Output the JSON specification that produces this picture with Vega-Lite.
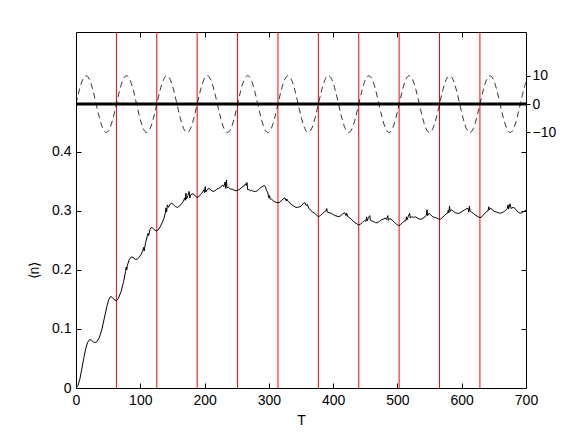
{
  "$schema": "https://vega.github.io/schema/vega-lite/v6.json",
  "autosize": {"type": "none"},
  "padding": {"left": 76, "top": 32, "right": 55, "bottom": 49},
  "width": 450,
  "height": 356,
  "background": "white",
  "config": {
    "font": "Liberation Sans",
    "view": {"stroke": "black", "strokeWidth": 1},
    "axis": {"grid": false, "domain": false, "labelFlush": false, "labelOverlap": false, "tickColor": "black", "labelColor": "black", "titleColor": "black", "labelFont": "Liberation Sans", "titleFont": "Liberation Sans", "labelFontSize": 14, "titleFontSize": 14, "titleFontWeight": "normal"}
  },
  "datasets": {
    "lines": [{"T": 62.83}, {"T": 125.66}, {"T": 188.5}, {"T": 251.33}, {"T": 314.16}, {"T": 376.99}, {"T": 439.82}, {"T": 502.65}, {"T": 565.49}, {"T": 628.32}],
    "zero": [{"s": 0}],
    "curve": [
      {"T":0,"n":0},{"T":3,"n":0.004},{"T":6,"n":0.015},{"T":9,"n":0.032},{"T":12,"n":0.05},{"T":15,"n":0.066},{"T":18,"n":0.077},{"T":21,"n":0.082},{"T":24,"n":0.081},{"T":27,"n":0.078},{"T":30,"n":0.077},{"T":33,"n":0.079},{"T":36,"n":0.085},{"T":40,"n":0.098},{"T":44,"n":0.118},{"T":48,"n":0.138},{"T":51,"n":0.15},{"T":54,"n":0.155},{"T":57,"n":0.153},{"T":60,"n":0.149},{"T":63,"n":0.148},{"T":66,"n":0.152},{"T":70,"n":0.163},{"T":74,"n":0.18},{"T":77,"n":0.197},{"T":78,"n":0.205},{"T":79,"n":0.2},{"T":80,"n":0.208},{"T":83,"n":0.218},{"T":86,"n":0.222},{"T":89,"n":0.221},{"T":92,"n":0.218},{"T":95,"n":0.218},{"T":98,"n":0.221},{"T":101,"n":0.226},{"T":104,"n":0.233},{"T":105,"n":0.238},{"T":106,"n":0.232},{"T":108,"n":0.245},{"T":111,"n":0.258},{"T":112,"n":0.262},{"T":113,"n":0.258},{"T":115,"n":0.268},{"T":117,"n":0.272},{"T":119,"n":0.271},{"T":122,"n":0.268},{"T":125,"n":0.266},{"T":128,"n":0.268},{"T":131,"n":0.273},{"T":134,"n":0.28},{"T":137,"n":0.288},{"T":139,"n":0.297},{"T":140,"n":0.305},{"T":141,"n":0.298},{"T":142,"n":0.31},{"T":144,"n":0.306},{"T":146,"n":0.311},{"T":149,"n":0.313},{"T":152,"n":0.31},{"T":155,"n":0.307},{"T":158,"n":0.306},{"T":161,"n":0.308},{"T":164,"n":0.312},{"T":167,"n":0.316},{"T":169,"n":0.322},{"T":170,"n":0.318},{"T":171,"n":0.33},{"T":172,"n":0.32},{"T":174,"n":0.326},{"T":176,"n":0.333},{"T":177,"n":0.322},{"T":179,"n":0.328},{"T":182,"n":0.329},{"T":185,"n":0.326},{"T":188,"n":0.323},{"T":191,"n":0.324},{"T":194,"n":0.328},{"T":197,"n":0.332},{"T":199,"n":0.336},{"T":200,"n":0.331},{"T":201,"n":0.341},{"T":202,"n":0.332},{"T":204,"n":0.336},{"T":207,"n":0.338},{"T":210,"n":0.335},{"T":213,"n":0.333},{"T":216,"n":0.334},{"T":219,"n":0.337},{"T":222,"n":0.338},{"T":225,"n":0.34},{"T":228,"n":0.344},{"T":230,"n":0.341},{"T":232,"n":0.349},{"T":233,"n":0.338},{"T":234,"n":0.352},{"T":235,"n":0.339},{"T":237,"n":0.34},{"T":240,"n":0.337},{"T":243,"n":0.337},{"T":246,"n":0.335},{"T":249,"n":0.334},{"T":252,"n":0.335},{"T":255,"n":0.337},{"T":258,"n":0.34},{"T":261,"n":0.342},{"T":264,"n":0.346},{"T":265,"n":0.343},{"T":266,"n":0.348},{"T":267,"n":0.336},{"T":269,"n":0.336},{"T":271,"n":0.334},{"T":273,"n":0.335},{"T":276,"n":0.333},{"T":279,"n":0.333},{"T":282,"n":0.334},{"T":285,"n":0.337},{"T":288,"n":0.34},{"T":291,"n":0.342},{"T":293,"n":0.343},{"T":295,"n":0.34},{"T":296,"n":0.335},{"T":298,"n":0.332},{"T":300,"n":0.322},{"T":301,"n":0.326},{"T":302,"n":0.32},{"T":304,"n":0.32},{"T":307,"n":0.317},{"T":310,"n":0.315},{"T":313,"n":0.314},{"T":316,"n":0.314},{"T":319,"n":0.317},{"T":322,"n":0.32},{"T":325,"n":0.322},{"T":327,"n":0.317},{"T":328,"n":0.32},{"T":330,"n":0.316},{"T":333,"n":0.313},{"T":336,"n":0.31},{"T":339,"n":0.308},{"T":342,"n":0.306},{"T":345,"n":0.306},{"T":348,"n":0.307},{"T":351,"n":0.309},{"T":354,"n":0.313},{"T":356,"n":0.314},{"T":358,"n":0.309},{"T":360,"n":0.311},{"T":362,"n":0.305},{"T":365,"n":0.301},{"T":368,"n":0.298},{"T":371,"n":0.296},{"T":374,"n":0.293},{"T":377,"n":0.29},{"T":380,"n":0.292},{"T":383,"n":0.295},{"T":386,"n":0.298},{"T":389,"n":0.3},{"T":390,"n":0.304},{"T":391,"n":0.298},{"T":394,"n":0.297},{"T":397,"n":0.296},{"T":400,"n":0.294},{"T":403,"n":0.292},{"T":406,"n":0.291},{"T":409,"n":0.29},{"T":412,"n":0.292},{"T":415,"n":0.295},{"T":418,"n":0.297},{"T":420,"n":0.292},{"T":421,"n":0.296},{"T":423,"n":0.29},{"T":425,"n":0.289},{"T":428,"n":0.286},{"T":431,"n":0.283},{"T":434,"n":0.28},{"T":437,"n":0.278},{"T":440,"n":0.276},{"T":443,"n":0.278},{"T":446,"n":0.281},{"T":449,"n":0.284},{"T":451,"n":0.282},{"T":452,"n":0.29},{"T":453,"n":0.283},{"T":455,"n":0.289},{"T":457,"n":0.292},{"T":458,"n":0.284},{"T":460,"n":0.283},{"T":463,"n":0.282},{"T":466,"n":0.28},{"T":469,"n":0.28},{"T":472,"n":0.282},{"T":475,"n":0.285},{"T":478,"n":0.286},{"T":481,"n":0.288},{"T":483,"n":0.285},{"T":485,"n":0.292},{"T":486,"n":0.284},{"T":488,"n":0.287},{"T":490,"n":0.286},{"T":493,"n":0.283},{"T":496,"n":0.28},{"T":499,"n":0.277},{"T":502,"n":0.275},{"T":505,"n":0.277},{"T":508,"n":0.28},{"T":511,"n":0.283},{"T":513,"n":0.283},{"T":514,"n":0.29},{"T":515,"n":0.285},{"T":517,"n":0.291},{"T":519,"n":0.296},{"T":520,"n":0.288},{"T":522,"n":0.29},{"T":525,"n":0.289},{"T":528,"n":0.29},{"T":531,"n":0.288},{"T":534,"n":0.286},{"T":537,"n":0.286},{"T":540,"n":0.288},{"T":543,"n":0.29},{"T":545,"n":0.293},{"T":546,"n":0.302},{"T":547,"n":0.292},{"T":549,"n":0.296},{"T":552,"n":0.293},{"T":555,"n":0.29},{"T":558,"n":0.289},{"T":561,"n":0.288},{"T":564,"n":0.286},{"T":567,"n":0.286},{"T":570,"n":0.289},{"T":573,"n":0.292},{"T":576,"n":0.295},{"T":578,"n":0.296},{"T":579,"n":0.301},{"T":580,"n":0.297},{"T":581,"n":0.308},{"T":582,"n":0.299},{"T":584,"n":0.302},{"T":587,"n":0.299},{"T":590,"n":0.297},{"T":593,"n":0.296},{"T":596,"n":0.296},{"T":599,"n":0.298},{"T":602,"n":0.3},{"T":605,"n":0.302},{"T":608,"n":0.304},{"T":610,"n":0.304},{"T":611,"n":0.298},{"T":612,"n":0.308},{"T":613,"n":0.3},{"T":615,"n":0.298},{"T":618,"n":0.296},{"T":621,"n":0.293},{"T":624,"n":0.291},{"T":627,"n":0.289},{"T":630,"n":0.289},{"T":633,"n":0.292},{"T":636,"n":0.296},{"T":639,"n":0.299},{"T":641,"n":0.3},{"T":642,"n":0.307},{"T":643,"n":0.302},{"T":645,"n":0.305},{"T":648,"n":0.301},{"T":651,"n":0.299},{"T":654,"n":0.298},{"T":657,"n":0.297},{"T":660,"n":0.296},{"T":663,"n":0.297},{"T":666,"n":0.299},{"T":669,"n":0.302},{"T":671,"n":0.304},{"T":672,"n":0.31},{"T":673,"n":0.303},{"T":675,"n":0.312},{"T":677,"n":0.304},{"T":680,"n":0.306},{"T":683,"n":0.304},{"T":686,"n":0.3},{"T":689,"n":0.297},{"T":692,"n":0.296},{"T":695,"n":0.298},{"T":698,"n":0.3},{"T":700,"n":0.301}
    ],
    "sine": [
      {"T":0,"s":0},{"T":5.24,"s":5},{"T":10.47,"s":8.66},{"T":15.71,"s":10},{"T":20.94,"s":8.66},{"T":26.18,"s":5},{"T":31.42,"s":0},{"T":36.65,"s":-5},{"T":41.89,"s":-8.66},{"T":47.12,"s":-10},{"T":52.36,"s":-8.66},{"T":57.6,"s":-5},
      {"T":62.83,"s":0},{"T":68.07,"s":5},{"T":73.3,"s":8.66},{"T":78.54,"s":10},{"T":83.78,"s":8.66},{"T":89.01,"s":5},{"T":94.25,"s":0},{"T":99.48,"s":-5},{"T":104.72,"s":-8.66},{"T":109.96,"s":-10},{"T":115.19,"s":-8.66},{"T":120.43,"s":-5},
      {"T":125.66,"s":0},{"T":130.9,"s":5},{"T":136.14,"s":8.66},{"T":141.37,"s":10},{"T":146.61,"s":8.66},{"T":151.84,"s":5},{"T":157.08,"s":0},{"T":162.32,"s":-5},{"T":167.55,"s":-8.66},{"T":172.79,"s":-10},{"T":178.02,"s":-8.66},{"T":183.26,"s":-5},
      {"T":188.5,"s":0},{"T":193.73,"s":5},{"T":198.97,"s":8.66},{"T":204.2,"s":10},{"T":209.44,"s":8.66},{"T":214.68,"s":5},{"T":219.91,"s":0},{"T":225.15,"s":-5},{"T":230.38,"s":-8.66},{"T":235.62,"s":-10},{"T":240.86,"s":-8.66},{"T":246.09,"s":-5},
      {"T":251.33,"s":0},{"T":256.56,"s":5},{"T":261.8,"s":8.66},{"T":267.04,"s":10},{"T":272.27,"s":8.66},{"T":277.51,"s":5},{"T":282.74,"s":0},{"T":287.98,"s":-5},{"T":293.22,"s":-8.66},{"T":298.45,"s":-10},{"T":303.69,"s":-8.66},{"T":308.92,"s":-5},
      {"T":314.16,"s":0},{"T":319.4,"s":5},{"T":324.63,"s":8.66},{"T":329.87,"s":10},{"T":335.1,"s":8.66},{"T":340.34,"s":5},{"T":345.58,"s":0},{"T":350.81,"s":-5},{"T":356.05,"s":-8.66},{"T":361.28,"s":-10},{"T":366.52,"s":-8.66},{"T":371.76,"s":-5},
      {"T":376.99,"s":0},{"T":382.23,"s":5},{"T":387.46,"s":8.66},{"T":392.7,"s":10},{"T":397.94,"s":8.66},{"T":403.17,"s":5},{"T":408.41,"s":0},{"T":413.64,"s":-5},{"T":418.88,"s":-8.66},{"T":424.12,"s":-10},{"T":429.35,"s":-8.66},{"T":434.59,"s":-5},
      {"T":439.82,"s":0},{"T":445.06,"s":5},{"T":450.29,"s":8.66},{"T":455.53,"s":10},{"T":460.77,"s":8.66},{"T":466,"s":5},{"T":471.24,"s":0},{"T":476.47,"s":-5},{"T":481.71,"s":-8.66},{"T":486.95,"s":-10},{"T":492.18,"s":-8.66},{"T":497.42,"s":-5},
      {"T":502.65,"s":0},{"T":507.89,"s":5},{"T":513.13,"s":8.66},{"T":518.36,"s":10},{"T":523.6,"s":8.66},{"T":528.83,"s":5},{"T":534.07,"s":0},{"T":539.31,"s":-5},{"T":544.54,"s":-8.66},{"T":549.78,"s":-10},{"T":555.01,"s":-8.66},{"T":560.25,"s":-5},
      {"T":565.49,"s":0},{"T":570.72,"s":5},{"T":575.96,"s":8.66},{"T":581.19,"s":10},{"T":586.43,"s":8.66},{"T":591.67,"s":5},{"T":596.9,"s":0},{"T":602.14,"s":-5},{"T":607.37,"s":-8.66},{"T":612.61,"s":-10},{"T":617.85,"s":-8.66},{"T":623.08,"s":-5},
      {"T":628.32,"s":0},{"T":633.55,"s":5},{"T":638.79,"s":8.66},{"T":644.03,"s":10},{"T":649.26,"s":8.66},{"T":654.5,"s":5},{"T":659.73,"s":0},{"T":664.97,"s":-5},{"T":670.21,"s":-8.66},{"T":675.44,"s":-10},{"T":680.68,"s":-8.66},{"T":685.91,"s":-5},
      {"T":691.15,"s":0},{"T":696.39,"s":5},{"T":700,"s":7.74}
    ]
  },
  "layer": [
    {
      "data": {"name": "lines"},
      "mark": {"type": "rule", "color": "#ff0000", "strokeWidth": 1},
      "encoding": {
        "x": {"field": "T", "type": "quantitative", "scale": {"domain": [0, 700], "nice": false}, "axis": null}
      }
    },
    {
      "data": {"name": "curve"},
      "mark": {"type": "line", "color": "black", "strokeWidth": 1, "clip": true},
      "encoding": {
        "x": {"field": "T", "type": "quantitative", "scale": {"domain": [0, 700], "nice": false},
              "axis": {"orient": "bottom", "values": [0,100,200,300,400,500,600,700], "tickSize": -5, "labelPadding": 10, "title": "T", "titlePadding": 6}},
        "y": {"field": "n", "type": "quantitative", "scale": {"domain": [0, 0.603], "nice": false, "zero": false},
              "axis": {"orient": "left", "values": [0, 0.1, 0.2, 0.3, 0.4], "format": "~g", "tickSize": -5, "labelPadding": 10, "title": "⟨n⟩", "titleAngle": 270, "titleX": -42, "titleY": 238, "titleAlign": "center", "titleBaseline": "middle"}}
      }
    },
    {
      "data": {"name": "curve"},
      "mark": {"type": "line", "opacity": 0},
      "encoding": {
        "x": {"field": "T", "type": "quantitative", "scale": {"domain": [0, 700], "nice": false},
              "axis": {"orient": "top", "values": [100,200,300,400,500,600], "tickSize": -5, "labels": false, "title": null}},
        "y": {"field": "n", "type": "quantitative", "scale": {"domain": [0, 0.603], "nice": false, "zero": false},
              "axis": {"orient": "right", "values": [0.1, 0.2, 0.3, 0.4], "tickSize": -5, "labels": false, "title": null}}
      }
    },
    {
      "data": {"name": "sine"},
      "mark": {"type": "line", "color": "black", "strokeWidth": 0.8, "strokeDash": [6, 4], "interpolate": "natural", "clip": true},
      "encoding": {
        "x": {"field": "T", "type": "quantitative", "scale": {"domain": [0, 700], "nice": false}, "axis": null},
        "y": {"field": "s", "type": "quantitative", "scale": {"domain": [-100, 25.4], "nice": false, "zero": false},
              "axis": {"orient": "right", "values": [-10, 0, 10], "format": "d", "tickSize": 4, "labelPadding": 2, "title": null}}
      }
    },
    {
      "data": {"name": "zero"},
      "mark": {"type": "rule", "color": "black", "strokeWidth": 3},
      "encoding": {
        "y": {"field": "s", "type": "quantitative", "scale": {"domain": [-100, 25.4], "nice": false, "zero": false}, "axis": null}
      }
    }
  ],
  "resolve": {"scale": {"y": "independent"}, "axis": {"x": "independent", "y": "independent"}}
}
